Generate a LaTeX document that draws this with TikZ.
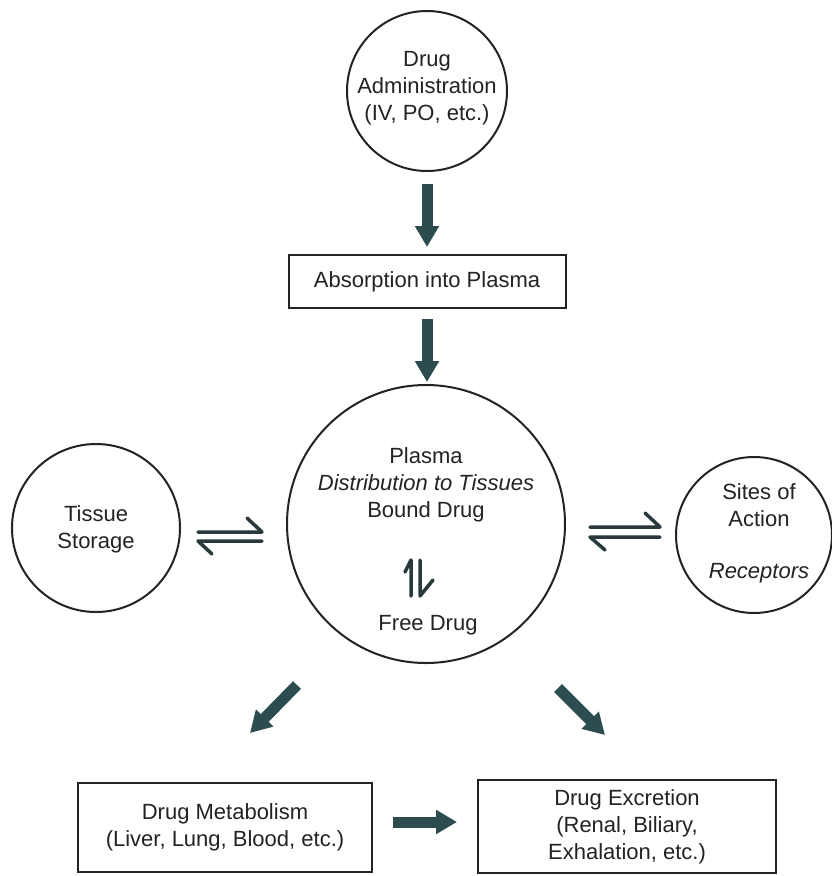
\documentclass[tikz,border=0pt]{standalone}
\usepackage{fontspec}
\setmainfont{Liberation Sans}
\usetikzlibrary{arrows.meta}
\definecolor{arrowcol}{RGB}{44,76,80}
\definecolor{harpcol}{RGB}{40,56,60}
\definecolor{inkcol}{RGB}{35,35,35}
\tikzset{
  txt/.style={font=\fontsize{22}{27}\selectfont, text=inkcol, align=center, inner sep=0pt},
  circ/.style={draw=inkcol, line width=2pt, circle, inner sep=0pt},
  boxnode/.style={draw=inkcol, line width=2pt, rectangle, inner sep=0pt, txt},
  fat/.style={draw=arrowcol, line width=11pt, -{Triangle[width=23pt,length=21pt]}},
  harp/.style={draw=harpcol, line width=3.5pt, line cap=round, line join=round}
}
\begin{document}
\begin{tikzpicture}[x=1pt,y=-1pt]
\useasboundingbox (0,0) rectangle (832,876);
\fill[white] (0,0) rectangle (832,876);

% nodes
\node[circ, minimum size=160pt] (admin) at (427,91) {};
\node[txt] (admintxt) at (427,88) {Drug\\Administration\\(IV, PO, etc.)};

\node[boxnode, minimum width=277pt, minimum height=53pt] (absorb) at (427,281.5) {Absorption into Plasma};

\node[circ, minimum size=278pt] (plasma) at (426,524) {};
\node[txt] (plasmatxt) at (426,485) {Plasma\\\itshape Distribution to Tissues\\Bound Drug};
\node[txt] (freetxt) at (428,625) {Free Drug};

\node[circ, minimum size=168pt] (tissue) at (96,528) {};
\node[txt] (tissuetxt) at (96,529) {Tissue\\Storage};

\node[circ, minimum size=156pt] (sites) at (754,535) {};
\node[txt] (sitestxt) at (759,505) {Sites of\\Action};
\node[txt, font=\fontsize{22}{27}\selectfont\itshape] (receptors) at (759,573) {Receptors};

\node[boxnode, minimum width=294pt, minimum height=89pt] (metab) at (225,827.5) {Drug Metabolism\\(Liver, Lung, Blood, etc.)};
\node[boxnode, minimum width=298pt, minimum height=93pt] (excr) at (627,826.5) {Drug Excretion\\(Renal, Biliary,\\Exhalation, etc.)};

% thick arrows
\draw[fat, shorten <=12pt, shorten >=7pt] (admin.south) -- (absorb.north);
\draw[fat, shorten <=10pt, shorten >=2pt] (absorb.south) -- (absorb.south |- plasma.north);
\coordinate (dlA) at (297,685);
\coordinate (dlB) at (250,733);
\coordinate (drA) at (558,688);
\coordinate (drB) at (605,735);
\draw[fat] (dlA) -- (dlB);
\draw[fat] (drA) -- (drB);
\draw[fat, shorten <=20pt, shorten >=20pt] (metab.east |- 0,822) -- (excr.west |- 0,822);

% equilibrium harpoons: tissue <-> plasma
\coordinate (tl1) at (198,532);
\coordinate (tl2) at (262,532);
\coordinate (tl3) at (198,541);
\coordinate (tl4) at (262,541);
\draw[harp] (tl1) -- (tl2) -- ++(-15,-14);
\draw[harp] (tl4) -- (tl3) -- ++(14,13);

% plasma <-> sites
\coordinate (sr1) at (590,527);
\coordinate (sr2) at (660,527);
\coordinate (sr3) at (590,537);
\coordinate (sr4) at (660,537);
\draw[harp] (sr1) -- (sr2) -- ++(-15,-14);
\draw[harp] (sr4) -- (sr3) -- ++(15,13);

% bound <-> free (vertical)
\coordinate (vb1) at (411,596);
\coordinate (vb2) at (411,560);
\coordinate (vb3) at (420,560);
\coordinate (vb4) at (420,596);
\draw[harp] (vb1) -- (vb2) -- ++(-6,12);
\draw[harp] (vb3) -- (vb4) -- ++(13,-16);
\end{tikzpicture}
\end{document}
